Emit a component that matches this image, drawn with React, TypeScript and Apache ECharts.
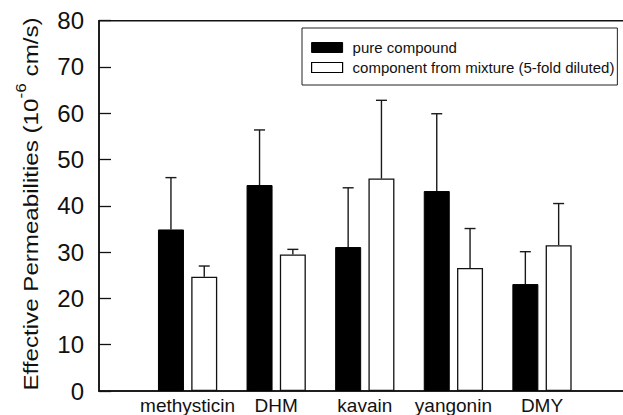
import React, { useEffect, useRef } from "react";
import * as echarts from "echarts";

const categories = ["methysticin", "DHM", "kavain", "yangonin", "DMY"];
const pureMean = [34.9, 44.5, 31.1, 43.2, 23.1];
const pureSD = [11.2, 11.9, 12.8, 16.7, 7.0];
const mixMean = [24.7, 29.5, 45.9, 26.6, 31.5];
const mixSD = [2.3, 1.1, 16.9, 8.5, 9.0];
const yTicks = [0, 10, 20, 30, 40, 50, 60, 70, 80];

const seriesNames = ["pure compound", "component from mixture (5-fold diluted)"];

const FONT = "'Liberation Sans', Arial, Helvetica, sans-serif";
const BAR_W = 26;
const BAR_GAP = "28%";
const OFFSET = 16.65;

export default function App() {
  const ref = useRef<HTMLDivElement>(null);
  useEffect(() => {
    if (!ref.current) return;
    const chart = echarts.init(ref.current, null, { renderer: "svg" });
    const axisCats = ["", ...categories, ""];
    const pad = (arr: number[]) => ["-", ...arr, "-"];
    const errData = (means: number[], sds: number[]) =>
      means.map((m, i) => [i + 1, m, sds[i]]);
    const errSeries = (name: string, means: number[], sds: number[], off: number) => ({
      type: "custom",
      name: name + "_err",
      data: errData(means, sds),
      z: 1,
      silent: true,
      renderItem: (params: any, api: any) => {
        const idx = api.value(0);
        const m = api.value(1);
        const sd = api.value(2);
        const p0 = api.coord([idx, m]);
        const p1 = api.coord([idx, m + sd]);
        const x = p0[0] + off;
        const style = { stroke: "#1a1a1a", lineWidth: 1.4, fill: null };
        return {
          type: "group",
          children: [
            { type: "line", shape: { x1: x, y1: p0[1], x2: x, y2: p1[1] }, style },
            { type: "line", shape: { x1: x - 5.5, y1: p1[1], x2: x + 5.5, y2: p1[1] }, style },
          ],
        };
      },
    });

    chart.setOption({
      animation: false,
      grid: {
        left: 99,
        top: 20.7,
        bottom: 24,
        right: -7.6,
        containLabel: false,
        outerBoundsMode: "none",
        show: true,
        borderColor: "#111",
        borderWidth: 1.5,
        backgroundColor: "transparent",
      },
      legend: {
        orient: "vertical",
        left: 302,
        top: 28,
        icon: "rect",
        itemWidth: 31,
        itemHeight: 10,
        itemGap: 5,
        padding: [12, 3, 10, 9],
        borderColor: "#222",
        borderWidth: 1,
        backgroundColor: "#fff",
        selectedMode: false,
        textStyle: { fontFamily: FONT, fontSize: 15, color: "#111", lineHeight: 15, padding: [0, 0, 0, 5] },
        data: [
          { name: seriesNames[0], itemStyle: { color: "#000", borderColor: "#000", borderWidth: 1 } },
          { name: seriesNames[1], itemStyle: { color: "#fff", borderColor: "#000", borderWidth: 1.2 } },
        ],
      },
      xAxis: {
        type: "category",
        data: axisCats,
        boundaryGap: false,
        axisLine: { show: true, lineStyle: { color: "#111", width: 1.5 } },
        axisTick: { show: false },
        axisLabel: { fontFamily: FONT, fontSize: 19, color: "#111", margin: 5, interval: 0 },
        splitLine: { show: false },
      },
      yAxis: {
        type: "value",
        min: yTicks[0],
        max: yTicks[yTicks.length - 1],
        interval: 10,
        axisLine: { show: true, lineStyle: { color: "#111", width: 1.5 } },
        axisTick: { show: true, inside: true, length: 12, lineStyle: { color: "#111", width: 1.3 } },
        axisLabel: { fontFamily: FONT, fontSize: 24, color: "#111", margin: 15 },
        splitLine: { show: false },
      },
      graphic: [
        {
          type: "text",
          x: 27,
          y: 204,
          rotation: Math.PI / 2,
          scaleX: 1.15,
          style: {
            text: "{b|Effective Permeabilities (10}{s|-6}{b| cm/s)}",
            align: "center",
            verticalAlign: "middle",
            fill: "#111",
            rich: {
              b: { fontFamily: FONT, fontSize: 21, lineHeight: 29, verticalAlign: "bottom", fill: "#111" },
              s: { fontFamily: FONT, fontSize: 15, lineHeight: 29, verticalAlign: "top", fill: "#111" },
            },
          },
        },
      ],
      series: [
        {
          type: "bar",
          name: seriesNames[0],
          data: pad(pureMean),
          barWidth: BAR_W,
          barGap: BAR_GAP,
          itemStyle: { color: "#000", borderColor: "#000", borderWidth: 1 },
          z: 2,
        },
        {
          type: "bar",
          name: seriesNames[1],
          data: pad(mixMean),
          barWidth: BAR_W,
          barGap: BAR_GAP,
          itemStyle: { color: "#fff", borderColor: "#111", borderWidth: 1.3 },
          z: 2,
        },
        errSeries(seriesNames[0], pureMean, pureSD, -OFFSET),
        errSeries(seriesNames[1], mixMean, mixSD, OFFSET),
      ],
    });
    return () => chart.dispose();
  }, []);
  return (
    <div
      ref={ref}
      style={{ position: "fixed", left: 0, top: 0, width: 623, height: 415, background: "#fff" }}
    />
  );
}
